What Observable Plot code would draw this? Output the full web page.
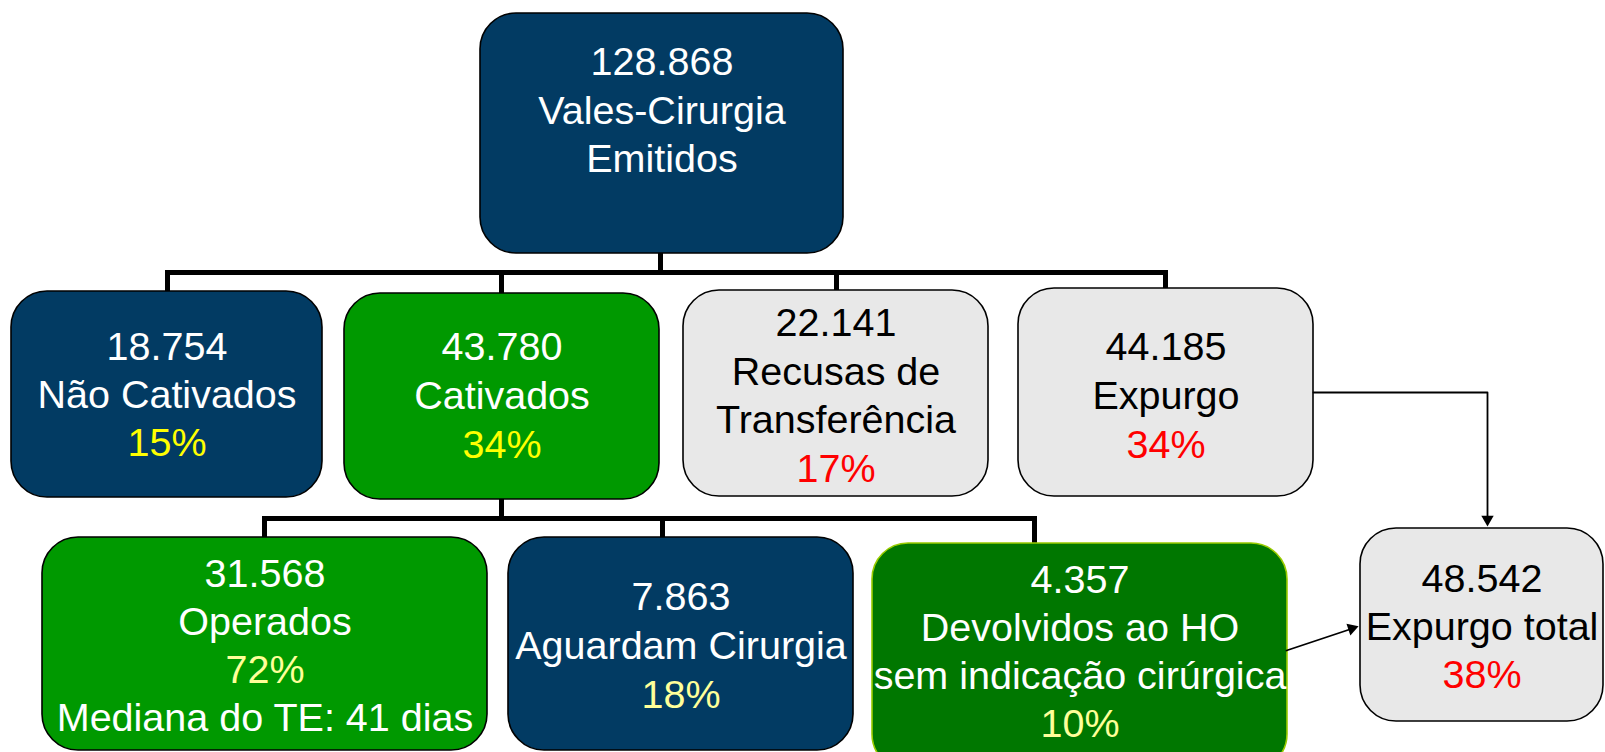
<!DOCTYPE html>
<html>
<head>
<meta charset="utf-8">
<script src="https://cdn.jsdelivr.net/npm/d3@7"></script>
<script src="https://cdn.jsdelivr.net/npm/@observablehq/plot@0.6"></script>
<style>
  html, body { margin: 0; padding: 0; background: #ffffff; overflow: hidden; }
  #chart svg { display: block; }
</style>
</head>
<body>
<div id="chart"></div>
<script>
// ---------- DATA ----------
const nodeIds  = ["emitidos", "naoCativados", "cativados", "recusas", "expurgo", "operados", "aguardam", "devolvidos", "expurgoTotal"];
const counts   = ["128.868", "18.754", "43.780", "22.141", "44.185", "31.568", "7.863", "4.357", "48.542"];
const labels   = [
  ["Vales-Cirurgia", "Emitidos"],
  ["Não Cativados"],
  ["Cativados"],
  ["Recusas de", "Transferência"],
  ["Expurgo"],
  ["Operados"],
  ["Aguardam Cirurgia"],
  ["Devolvidos ao HO", "sem indicação cirúrgica"],
  ["Expurgo total"]
];
const percents = [null, "15%", "34%", "17%", "34%", "72%", "18%", "10%", "38%"];
const notes    = [null, null, null, null, null, "Mediana do TE: 41 dias", null, null, null];

// ---------- LAYOUT (diagram coordinates) ----------
const boxX1 = [480, 11, 344, 683, 1018, 42, 508, 872, 1360];
const boxX2 = [843, 322, 659, 988, 1313, 487, 853, 1287, 1603];
const boxY1 = [13, 291, 293, 290, 288, 537, 537, 543, 528];
const boxY2 = [253, 497, 499, 496, 496, 750, 750, 770, 721];
const firstLineY = [62, 347, 347, 323, 347, 574, 597, 580, 579];
const lineGap    = [48.5, 48, 49, 48.5, 49, 48, 49, 48, 48];

// tree connectors (thick)
const connX1 = [660, 167, 167, 501, 836, 1165, 501, 264, 264, 662, 1034];
const connY1 = [253, 272, 272, 272, 272, 272, 499, 518, 518, 518, 518];
const connX2 = [660, 1165, 167, 501, 836, 1165, 501, 1034, 264, 662, 1034];
const connY2 = [272, 272, 291, 293, 290, 288, 518, 518, 537, 537, 543];

// thin arrows
const arrowPathId = [0, 0, 0, 1, 1];
const arrowPathX  = [1313, 1487, 1487, 1286, 1352];
const arrowPathY  = [392, 392, 518, 650, 628];
const headX = [1487, 1351.3];
const headY = [518.8, 627.9];
const headRotate = [180, 71.6];

// ---------- STYLES ----------
const navy = "#023B63", green = "#009900", darkGreen = "#007700", grey = "#E8E8E8";
const boxFill   = [navy, navy, green, grey, grey, green, navy, darkGreen, grey];
const boxStroke = ["#000000", "#000000", "#000000", "#000000", "#000000", "#000000", "#000000", "#99CC00", "#000000"];
const inkColor  = ["#ffffff", "#ffffff", "#ffffff", "#000000", "#000000", "#ffffff", "#ffffff", "#ffffff", "#000000"];
const pctColor  = [null, "#FFFF00", "#FFFF00", "#FF0000", "#FF0000", "#FFFF99", "#FFFF99", "#FFFF99", "#FF0000"];

// ---------- BUILD ----------
const W = 1605, H = 752;
const boxes = nodeIds.map((id, i) => ({id, x1: boxX1[i], x2: boxX2[i], y1: boxY1[i], y2: boxY2[i], fill: boxFill[i], stroke: boxStroke[i]}));
const lines = [];
nodeIds.forEach((id, i) => {
  const rows = [{t: counts[i], c: inkColor[i]}, ...labels[i].map(t => ({t, c: inkColor[i]}))];
  if (percents[i]) rows.push({t: percents[i], c: pctColor[i]});
  if (notes[i]) rows.push({t: notes[i], c: inkColor[i]});
  rows.forEach((r, k) => lines.push({x: (boxX1[i] + boxX2[i]) / 2, y: firstLineY[i] + k * lineGap[i], text: r.t, color: r.c}));
});
const connectors = connX1.map((x, i) => ({x1: x, y1: connY1[i], x2: connX2[i], y2: connY2[i]}));
const arrowPts = arrowPathX.map((x, i) => ({id: arrowPathId[i], x, y: arrowPathY[i]}));
const heads = headX.map((x, i) => ({x, y: headY[i], rot: headRotate[i]}));

const chart = Plot.plot({
  width: W,
  height: H,
  margin: 0,
  style: {background: "#ffffff"},
  x: {domain: [0, W], range: [0, W], axis: null},
  y: {domain: [0, H], range: [0, H], axis: null},
  color: {type: "identity"},
  marks: [
    Plot.link(connectors, {x1: "x1", y1: "y1", x2: "x2", y2: "y2", stroke: "#000000", strokeWidth: 5, strokeLinecap: "square"}),
    Plot.rect(boxes, {x1: "x1", x2: "x2", y1: "y1", y2: "y2", fill: "fill", stroke: "stroke", strokeWidth: 1.6, rx: 36, ry: 36}),
    Plot.line(arrowPts, {x: "x", y: "y", z: "id", stroke: "#000000", strokeWidth: 1.8}),
    Plot.dot(heads, {x: "x", y: "y", symbol: "triangle2", r: 5.9, fill: "#000000", stroke: "none", rotate: "rot"}),
    Plot.text(lines, {x: "x", y: "y", text: "text", fill: "color", fontSize: 39.5, fontFamily: "Liberation Sans, Arial, sans-serif", textAnchor: "middle", lineAnchor: "middle"})
  ]
});
document.getElementById("chart").appendChild(chart);
</script>
</body>
</html>
